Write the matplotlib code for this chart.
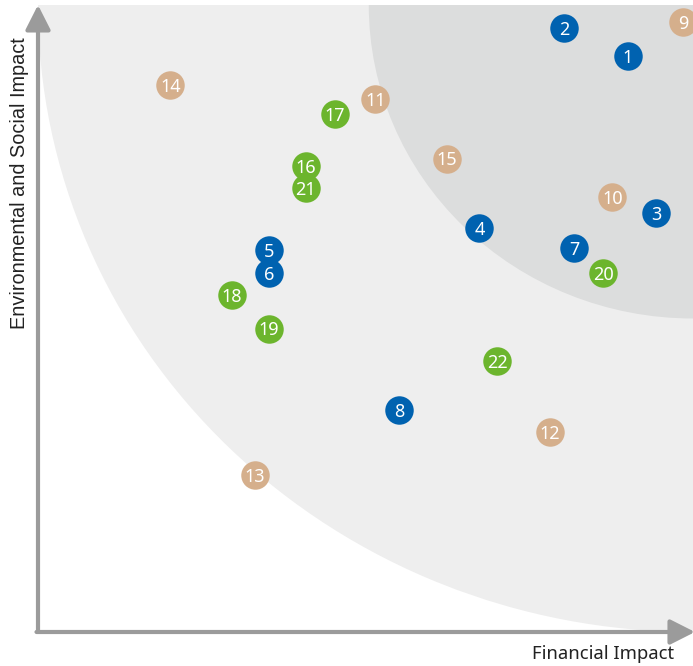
import matplotlib
matplotlib.use("Agg")
import matplotlib.pyplot as plt
from matplotlib.patches import Ellipse

# issue numbers and their scores (0-10 on both axes)
ids = list(range(1, 23))
financial = [9.00, 8.03, 9.44, 6.74, 3.53, 3.53, 8.19, 5.51, 9.85, 8.77, 5.15,
             7.82, 3.31, 2.02, 6.24, 4.09, 4.53, 2.96, 3.53, 8.63, 4.09, 7.01]
env_social = [9.18, 9.63, 6.68, 6.44, 6.09, 5.73, 6.12, 3.54, 9.73, 6.94, 8.50,
              3.19, 2.50, 8.72, 7.55, 7.43, 8.26, 5.37, 4.84, 5.73, 7.08, 4.32]
groups = ["G", "G", "G", "G", "G", "G", "G", "G",
          "E", "E", "E", "E", "E", "E", "E",
          "S", "S", "S", "S", "S", "S", "S"]

colors = {"G": "#0062B0", "E": "#D5AF8C", "S": "#6CB52D"}
axis_gray = "#9B9B9B"

fig = plt.figure(figsize=(6.93, 6.66), dpi=100)
ax = fig.add_axes([38 / 693, 34 / 666, 655 / 693, 627 / 666])
ax.set_xlim(0, 10)
ax.set_ylim(0, 10)
for s in ax.spines.values():
    s.set_visible(False)
ax.set_xticks([])
ax.set_yticks([])

# priority zones centred on the top-right corner
ax.add_patch(Ellipse((10, 10), 20, 20, facecolor="#EEEEEE", edgecolor="none", zorder=0))
ax.add_patch(Ellipse((10, 10), 9.9, 10, facecolor="#DCDDDD", edgecolor="none", zorder=1))

# axis arrows
arrow = dict(arrowstyle="-|>,head_length=0.75,head_width=0.38", color=axis_gray,
             lw=3, mutation_scale=20, shrinkA=0, shrinkB=0)
ax.annotate("", xy=(0, 1.0), xytext=(0, 0), xycoords="axes fraction",
            arrowprops=arrow, annotation_clip=False)
ax.annotate("", xy=(1.003, 0), xytext=(-0.0023, 0), xycoords="axes fraction",
            arrowprops=arrow, annotation_clip=False)

for i, x, y, g in zip(ids, financial, env_social, groups):
    ax.plot(x, y, "o", ms=20.5, color=colors[g], mec="none", zorder=3, clip_on=True)
    ax.text(x, y - 0.03, str(i), ha="center", va="center", color="white",
            fontsize=13, family="Noto Sans", zorder=4, clip_on=True)

fig.text(603 / 693, 1 - 654 / 666, "Financial Impact", ha="center", va="center",
         fontsize=13.3, family="Noto Sans", color="#222222")
fig.text(20 / 693, 1 - 183 / 666, "Environmental and Social Impact", ha="center",
         va="center", rotation=90, fontsize=14.3, family="Liberation Sans",
         color="#222222")

fig.savefig("out.png", dpi=100)
